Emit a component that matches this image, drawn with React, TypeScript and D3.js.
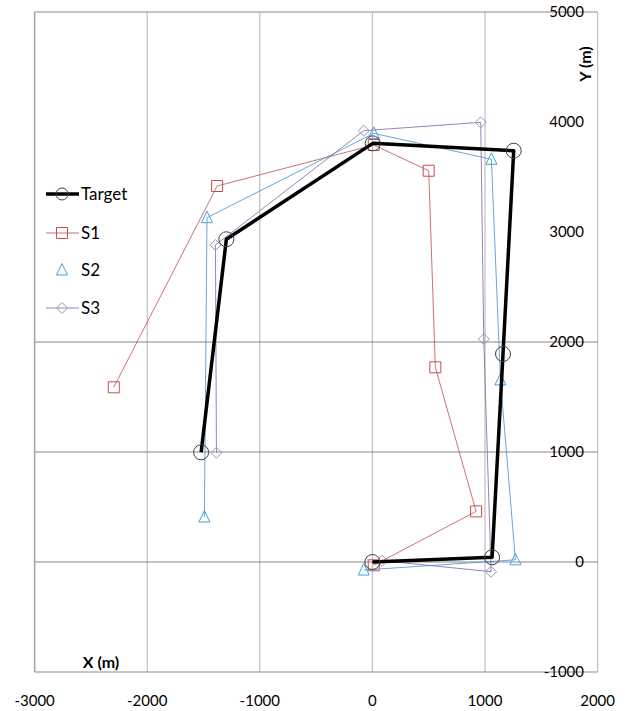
import * as d3 from "d3";

// series (metres)
const targetX = [0, 1063, 1160, 1255, 3, -1297, -1521];
const targetY = [0, 43, 1891, 3739, 3806, 2934, 997];
const s1X = [12, 921, 559, 500, 12, -1379, -2297];
const s1Y = [-30, 460, 1770, 3557, 3791, 3418, 1588];
const s2X = [-77, 1270, 1137, 1057, 12, -1469, -1492];
const s2Y = [-73, 20, 1655, 3661, 3897, 3130, 409];
const s3X = [86, 1054, 989, 962, -77, -1394, -1385];
const s3Y = [12, -88, 2027, 3997, 3921, 2882, 994];

const xTicks = [-3000, -2000, -1000, 0, 1000, 2000];
const yTicks = [5000, 4000, 3000, 2000, 1000, 0, -1000];
const yGrid = [2000, 1000, 0];

const W = 626;
const H = 711;
const FONT = "Lato, 'Liberation Sans', sans-serif";

type Pt = [number, number];
const zip = (xs: number[], ys: number[]): Pt[] => xs.map((x, i) => [x, ys[i]]);

const markerPath = (kind: string, legend = false) => {
  if (kind === "circle") return d3.symbol(d3.symbolCircle, legend ? 113 : 177)() as string;
  if (kind === "square") return "M-5.5,-5.5H5.5V5.5H-5.5Z";
  if (kind === "triangle") return "M0,-6.5L5.5,5L-5.5,5Z";
  return "M0,-5.5L5.5,0L0,5.5L-5.5,0Z";
};

const series = [
  { name: "Target", pts: zip(targetX, targetY), color: "#000", mark: "circle", markColor: "#404040", width: 3.5, legendLine: true },
  { name: "S1", pts: zip(s1X, s1Y), color: "#c0504d", mark: "square", markColor: "#c0504d", width: 1, legendLine: true },
  { name: "S2", pts: zip(s2X, s2Y), color: "#3f92d6", mark: "triangle", markColor: "#4a9ee0", width: 1, legendLine: false },
  { name: "S3", pts: zip(s3X, s3Y), color: "#8064a2", mark: "diamond", markColor: "#a28fc4", width: 1, legendLine: true },
];

export default function App() {
  const x = d3.scaleLinear().domain([-3000, 2000]).range([34.6, 597.6]);
  const y = d3.scaleLinear().domain([-1000, 5000]).range([672, 12]);
  const line = d3
    .line<Pt>()
    .x((d) => x(d[0]))
    .y((d) => y(d[1]));

  const drawOrder = [series[1], series[2], series[3], series[0]];

  return (
    <svg
      width={W}
      height={H}
      style={{ position: "absolute", left: 0, top: 0, background: "#fff" }}
      fontFamily={FONT}
    >
      {/* vertical grid */}
      {xTicks.map((t) => (
        <line key={"vx" + t} x1={x(t)} x2={x(t)} y1={y(5000)} y2={y(-1000)} stroke="#c0c0c0" strokeWidth={1.2} />
      ))}
      {/* horizontal grid + borders */}
      {yGrid.map((t) => (
        <line key={"hy" + t} x1={x(-3000)} x2={x(2000)} y1={y(t)} y2={y(t)} stroke="#868686" strokeWidth={1.2} />
      ))}
      <line x1={x(-3000)} x2={x(2000)} y1={y(5000)} y2={y(5000)} stroke="#8c8c8c" strokeWidth={1.2} />
      <line x1={x(-3000)} x2={x(2000)} y1={y(-1000)} y2={y(-1000)} stroke="#8c8c8c" strokeWidth={1.2} />
      <line x1={x(-3000)} x2={x(-3000)} y1={y(5000)} y2={y(-1000)} stroke="#a6a6a6" strokeWidth={1.5} />

      {drawOrder.map((s) => (
        <g key={s.name}>
          <path d={line(s.pts) as string} fill="none" stroke={s.color} strokeWidth={s.width} strokeOpacity={s.width > 2 ? 1 : 0.8} strokeLinejoin="round" />
          {s.pts.map((p, i) => (
            <path
              key={i}
              d={markerPath(s.mark)}
              transform={`translate(${x(p[0])},${y(p[1])})`}
              fill="none"
              stroke={s.markColor}
              strokeWidth={1}
            />
          ))}
        </g>
      ))}

      {/* y tick labels */}
      {yTicks.map((t) => (
        <text key={"ty" + t} x={584} y={y(t)} dy="0.35em" textAnchor="end" fontSize={15} fill="#000">
          {t}
        </text>
      ))}
      {/* x tick labels */}
      {xTicks.map((t) => (
        <text key={"tx" + t} x={x(t)} y={706} textAnchor="middle" fontSize={15} fill="#000">
          {t}
        </text>
      ))}

      <text x={101} y={668} textAnchor="middle" fontSize={16} fontWeight="bold">
        X (m)
      </text>
      <text transform={`translate(591,64) rotate(-90)`} textAnchor="middle" fontSize={16} fontWeight="bold">
        Y (m)
      </text>

      {/* legend */}
      {series.map((s, i) => {
        const ly = [194, 233, 270, 308][i];
        return (
          <g key={"lg" + s.name} transform={`translate(0,${ly})`}>
            {s.legendLine && (
              <line x1={46} x2={79} y1={0} y2={0} stroke={s.color} strokeWidth={s.width} strokeOpacity={s.width > 2 ? 1 : 0.8} />
            )}
            <path d={markerPath(s.mark, true)} transform="translate(62,0)" fill="none" stroke={s.markColor} strokeWidth={1} />
            <text x={81} y={0} dy="0.36em" fontSize={17} fill="#000">
              {s.name}
            </text>
          </g>
        );
      })}
    </svg>
  );
}
